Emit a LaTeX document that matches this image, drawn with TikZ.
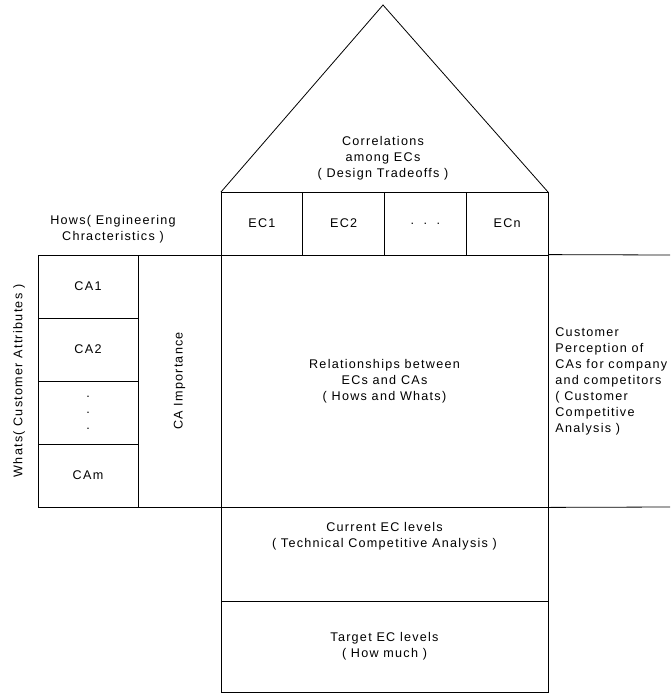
\documentclass[tikz,border=0pt]{standalone}
\usepackage{fontspec}
\setmainfont[LetterSpace=10]{Liberation Sans}
\begin{document}
\begin{tikzpicture}[x=1pt,y=-1pt,line width=0.8pt,
  every node/.style={font=\fontsize{12.6}{16}\selectfont,inner sep=0pt},
  cell/.style={draw,rectangle,align=center},
  txt/.style={align=center}]
\useasboundingbox (0,0) rectangle (670,694);
% roof
\coordinate (apex) at (383,5);
\coordinate (roofL) at (221,192);
\coordinate (roofR) at (548,192);
\draw (roofL) -- (apex) -- (roofR);
\node[txt] (corr) at (383,158) {Correlations\\among ECs\\( Design Tradeoffs )};
% EC row
\node[cell,minimum width=81.75,minimum height=63] (ec1) at (261.875,223.5) {EC1};
\node[cell,minimum width=81.75,minimum height=63] (ec2) at (343.625,223.5) {EC2};
\node[cell,minimum width=81.75,minimum height=63] (ec3) at (425.375,223.5) {.\ \ .\ \ .};
\node[cell,minimum width=81.75,minimum height=63] (ecn) at (507.125,223.5) {ECn};
% main matrix
\node[cell,minimum width=327,minimum height=252] (rel) at (384.5,381) {Relationships between\\ECs and CAs\\( Hows and Whats)};
\coordinate (rtop) at (670,255);
\coordinate (rbot) at (670,507);
\draw (rel.north east) -- (rtop);
\draw (rel.south east) -- (rbot);
% bottom rows
\node[cell,minimum width=327,minimum height=94] (cur) at (384.5,554) {};
\node[txt] (curtxt) at (384.5,536) {Current EC levels\\( Technical Competitive Analysis )};
\node[cell,minimum width=327,minimum height=91] (tgt) at (384.5,646.5) {Target EC levels\\( How much )};
% left side
\node[cell,minimum width=100,minimum height=63] (ca1) at (88,286.5) {CA1};
\node[cell,minimum width=100,minimum height=63] (ca2) at (88,349.5) {CA2};
\node[cell,minimum width=100,minimum height=63] (ca3) at (88,412.5) {.\\.\\.};
\node[cell,minimum width=100,minimum height=63] (cam) at (88,475.5) {CAm};
\node[cell,minimum width=83,minimum height=252] (imp) at (179.5,381) {};
\node[rotate=90] (imptxt) at (179.5,381) {CA Importance};
\node[rotate=90] (whats) at (19,381) {Whats( Customer Attributes )};
\node[txt] (hows) at (113,229) {Hows( Engineering\\Chracteristics )};
% right side
\node[align=left,anchor=west] (cust) at (555,381) {Customer\\Perception of\\CAs for company\\and competitors\\( Customer\\Competitive\\Analysis )};
\end{tikzpicture}
\end{document}
